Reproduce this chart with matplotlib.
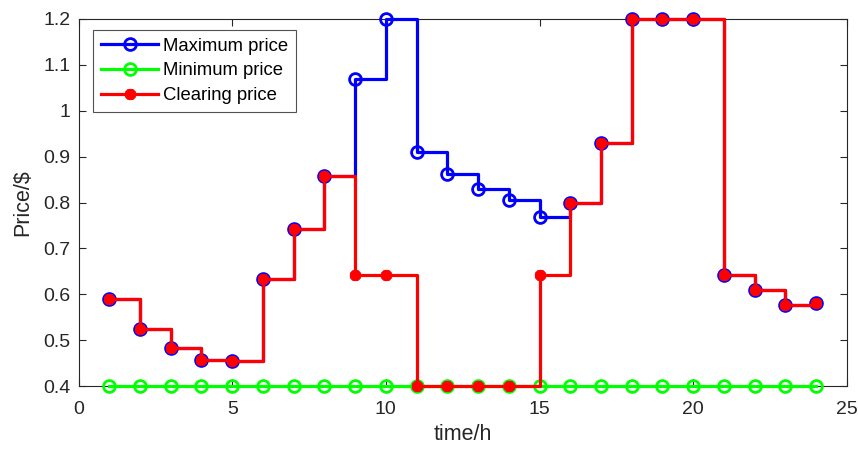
import matplotlib
matplotlib.use("Agg")
import matplotlib.pyplot as plt

plt.rcParams['font.family'] = ['Liberation Sans', 'DejaVu Sans']

hours = list(range(1, 25))
max_price = [0.590, 0.525, 0.482, 0.457, 0.455, 0.633, 0.743, 0.857,
             1.070, 1.200, 0.910, 0.863, 0.829, 0.805, 0.768, 0.800,
             0.929, 1.200, 1.200, 1.200, 0.643, 0.610, 0.576, 0.581]
min_price = [0.4] * 24
clearing_price = [0.590, 0.525, 0.482, 0.457, 0.455, 0.633, 0.743, 0.857,
                  0.643, 0.643, 0.400, 0.400, 0.400, 0.400, 0.643, 0.800,
                  0.929, 1.200, 1.200, 1.200, 0.643, 0.610, 0.576, 0.581]

fig = plt.figure(figsize=(8.58, 4.5), dpi=100)
ax = fig.add_axes([0.0915, 0.142, 0.8955, 0.816])

lw = 2.3
ax.plot(hours, max_price, drawstyle='steps-post', color='#0000ff', lw=lw,
        marker='o', ms=8.5, mfc='none', mec='#0000ff', mew=2.0,
        label='Maximum price', clip_on=False, zorder=3)
ax.plot(hours, min_price, drawstyle='steps-post', color='#00ff00', lw=lw,
        marker='o', ms=8.5, mfc='none', mec='#00ff00', mew=2.0,
        label='Minimum price', clip_on=False, zorder=4)
ax.plot(hours, clearing_price, drawstyle='steps-post', color='#ff0000', lw=lw,
        marker=(8, 2, 0), ms=8, mfc='#ff0000', mec='#ff0000', mew=2.6,
        label='Clearing price', clip_on=False, zorder=5)

ax.set_xlim(0, 25)
ax.set_ylim(0.4, 1.2)
ax.set_xticks([0, 5, 10, 15, 20, 25])
ax.set_yticks([0.4, 0.5, 0.6, 0.7, 0.8, 0.9, 1.0, 1.1, 1.2])
ax.set_yticklabels(['0.4', '0.5', '0.6', '0.7', '0.8', '0.9', '1', '1.1', '1.2'])

ax.tick_params(direction='in', length=5, width=0.8, colors='#262626',
               labelsize=14, top=True, right=True, pad=6)
ax.tick_params(axis='x', pad=11)
for t in ax.get_xticklabels() + ax.get_yticklabels():
    t.set_color('#262626')
for sp in ax.spines.values():
    sp.set_color('#262626')
    sp.set_linewidth(0.8)

ax.set_xlabel('time/h', fontsize=15.5, color='#262626', labelpad=4)
ax.set_ylabel('Price/$', fontsize=15.5, color='#262626', labelpad=7)

leg = ax.legend(loc='upper left', bbox_to_anchor=(0.012, 0.985), fontsize=13.3,
                frameon=True, fancybox=False, edgecolor='#262626',
                handlelength=3.1, borderpad=0.42, labelspacing=0.42,
                handletextpad=0.25, borderaxespad=0.3)
leg.get_frame().set_linewidth(0.8)

fig.savefig('out.png', dpi=100)
